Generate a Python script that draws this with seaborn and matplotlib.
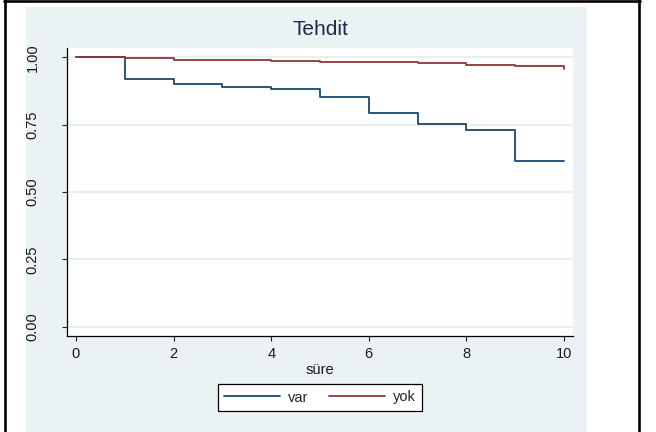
import matplotlib
matplotlib.use("Agg")
import matplotlib.pyplot as plt
from matplotlib.patches import Rectangle
from matplotlib.lines import Line2D
import pandas as pd
import seaborn as sns

# Kaplan-Meier survival estimates by group
title = "Tehdit"
x_label = "süre"
groups = ["var", "yok"]

var_time = [0, 1, 2, 3, 4, 5, 6, 7, 8, 9, 10]
var_surv = [1.000, 0.918, 0.901, 0.891, 0.881, 0.854, 0.794, 0.753, 0.730, 0.614, 0.614]

yok_time = [0, 1, 2, 3, 4, 5, 6, 7, 8, 9, 10, 10]
yok_surv = [1.000, 0.996, 0.991, 0.989, 0.987, 0.984, 0.983, 0.979, 0.970, 0.967, 0.967, 0.955]

x_ticks = [0, 2, 4, 6, 8, 10]
y_ticks = [0.00, 0.25, 0.50, 0.75, 1.00]
y_ticklabels = ["0.00", "0.25", "0.50", "0.75", "1.00"]

colors = {"var": "#1a476f", "yok": "#90353b"}
region_bg = "#eaf2f3"

df = pd.concat([
    pd.DataFrame({"t": var_time, "s": var_surv, "grup": "var"}),
    pd.DataFrame({"t": yok_time, "s": yok_surv, "grup": "yok"}),
], ignore_index=True)

sns.set_theme(style="white")
plt.rcParams["font.family"] = ["Liberation Sans", "DejaVu Sans"]

W, H = 656, 432
fig = plt.figure(figsize=(W / 100, H / 100), dpi=100)
fig.patch.set_facecolor("white")

# graph region background
fig.add_artist(Rectangle((26 / W, 0), (587 - 26) / W, (H - 7) / H,
                         transform=fig.transFigure, facecolor=region_bg,
                         edgecolor="none", zorder=-1))

# outer frame lines
frame_kw = dict(transform=fig.transFigure, color="black", lw=1.9, zorder=5)
fig.add_artist(Line2D([5 / W, 5 / W], [0, 1], **frame_kw))
fig.add_artist(Line2D([639 / W, 639 / W], [0, 1], **frame_kw))
fig.add_artist(Line2D([4 / W, 640 / W], [1 - 0.8 / H, 1 - 0.8 / H], **frame_kw))

ax = fig.add_axes([67 / W, 1 - 336 / H, (573 - 67) / W, (336 - 48) / H])
ax.set_facecolor("white")

sns.lineplot(data=df, x="t", y="s", hue="grup", hue_order=groups,
             palette=colors, estimator=None, sort=False,
             drawstyle="steps-post", lw=1.3, ax=ax)

ax.set_xlim(-0.184, 10.184)
ax.set_ylim(-0.0345, 1.0345)
ax.set_xticks(x_ticks)
ax.set_xticklabels([str(v) for v in x_ticks])
ax.set_yticks(y_ticks)
ax.set_yticklabels(y_ticklabels, rotation=90, va="center")

ax.yaxis.grid(True, color="#e3ebee", lw=1.1)
ax.xaxis.grid(False)
ax.set_axisbelow(True)

for side in ("top", "right"):
    ax.spines[side].set_visible(False)
for side in ("left", "bottom"):
    ax.spines[side].set_color("black")
    ax.spines[side].set_linewidth(0.9)

ax.tick_params(axis="both", which="major", direction="out", length=3.6,
               width=0.8, color="#222222", labelcolor="#1a1a1a",
               labelsize=10.5, bottom=True, left=True)
ax.tick_params(axis="y", pad=16)
ax.tick_params(axis="x", pad=4.5)

ax.set_xlabel(x_label, fontsize=10.5, color="#1a1a1a", labelpad=1.5)
ax.set_ylabel("")
ax.set_title(title, fontsize=15, color="#1e2a4a", pad=9.5)

sns.move_legend(ax, "center", bbox_to_anchor=(320 / W, 1 - 397.5 / H),
                bbox_transform=fig.transFigure, ncol=2, title=None,
                frameon=True, fancybox=False, edgecolor="black",
                framealpha=1, fontsize=10.5, handlelength=3.8,
                columnspacing=1.45, handletextpad=0.55, borderpad=0.42)
leg = ax.get_legend()
leg.get_frame().set_linewidth(0.9)
for line in leg.get_lines():
    line.set_linewidth(1.3)

fig.savefig("out.png", dpi=100, facecolor="white")
